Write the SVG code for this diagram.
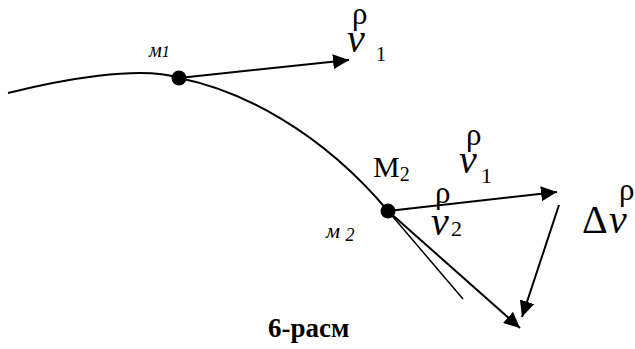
<svg xmlns="http://www.w3.org/2000/svg" width="635" height="349" viewBox="0 0 635 349">
<style>
.ln{fill:none;stroke:#000;stroke-width:2}
.tn{fill:none;stroke:#000;stroke-width:1.5}
text{font-family:"Liberation Serif","Times New Roman",serif;fill:#000}
.it{font-style:italic}
.s16{font-size:16px}.s18{font-size:18px}.s20{font-size:20px}.s22{font-size:22px}
.rho{font-size:31px}.s30{font-size:30px}.s40{font-size:40px}
.cap{font-size:27px;font-weight:bold}
</style>
<defs>
<marker id="ahb" viewBox="0 0 16 15" refX="16" refY="7.5" markerWidth="16" markerHeight="15" markerUnits="userSpaceOnUse" orient="auto">
<path d="M0,0 L16,7.5 L0,15 Z" fill="#000"/>
</marker>
</defs>
<g id="connectors">
<path class="ln" d="M8 93 C60 80,140 65,179 78"/>
<path class="ln" d="M179 78 C240 90,320 130,388 211"/>
<line class="tn" x1="388" y1="211" x2="463" y2="299"/>
<line class="ln" x1="179" y1="78" x2="349" y2="60" marker-end="url(#ahb)"/>
<line class="ln" x1="388" y1="211" x2="557" y2="192" marker-end="url(#ahb)"/>
<line class="ln" x1="388" y1="211" x2="520" y2="328" marker-end="url(#ahb)"/>
<line class="ln" x1="559" y1="205" x2="522" y2="317" marker-end="url(#ahb)"/>
</g>
<g id="M1">
<circle cx="179" cy="78" r="7.5" fill="#000"/>
<text class="it s20" x="149" y="57">м<tspan class="s16">1</tspan></text>
</g>
<g id="M2">
<circle cx="388" cy="211" r="7.5" fill="#000"/>
<text class="s30" x="373" y="177">M<tspan class="s20" dy="4">2</tspan></text>
<text class="it s22" x="326" y="238">м <tspan class="s18" dy="3">2</tspan></text>
</g>
<g id="v1top">
<text class="rho" x="352" y="24">ρ</text>
<text class="it s40" x="347" y="52">v</text>
<text class="s20" x="376" y="61">1</text>
</g>
<g id="v1">
<text class="rho" x="466" y="145">ρ</text>
<text class="it s40" x="459" y="173">v</text>
<text class="s22" x="481" y="183">1</text>
</g>
<g id="v2">
<text class="rho" x="435" y="203">ρ</text>
<text class="it s40" x="431" y="235">v</text>
<text class="s22" x="451" y="236">2</text>
</g>
<g id="dv">
<text class="s40" x="582" y="233">Δ</text>
<text class="rho" x="619" y="200">ρ</text>
<text class="it s40" x="609" y="233">v</text>
</g>
<text class="cap" x="268" y="337">6-расм</text>
</svg>
